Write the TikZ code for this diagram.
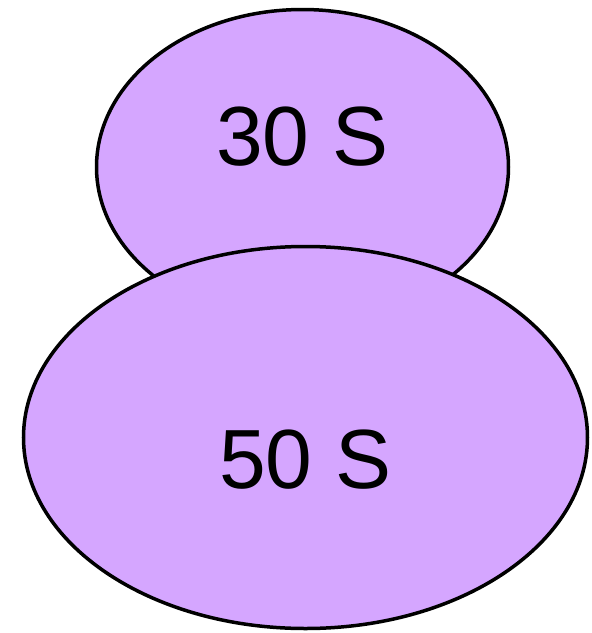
\documentclass[tikz,border=0pt]{standalone}
\usepackage{fontspec}
\setmainfont{Liberation Sans}
\usetikzlibrary{shapes.geometric,positioning}
\definecolor{subunit}{RGB}{213,166,255}
\tikzset{
  sub/.style={ellipse, draw, line width=3.5pt, fill=subunit, inner sep=0pt},
  lbl/.style={font=\fontsize{84}{84}\selectfont, inner sep=0pt,
              text height=60pt, text depth=0pt}
}
\begin{document}
\begin{tikzpicture}[x=1pt, y=-1pt]
  \useasboundingbox (0,0) rectangle (592,633);
  \node[sub, minimum width=412pt, minimum height=315pt] (small) at (302.5,167) {};
  \node[sub, minimum width=564pt, minimum height=382pt] (large) at (305.5,437.5) {};
  \node[lbl] (smalltxt) at ([yshift=32pt]small.center) {30 S};
  \node[lbl] (largetxt) at ([yshift=-20.5pt]large.center) {50 S};
\end{tikzpicture}
\end{document}
